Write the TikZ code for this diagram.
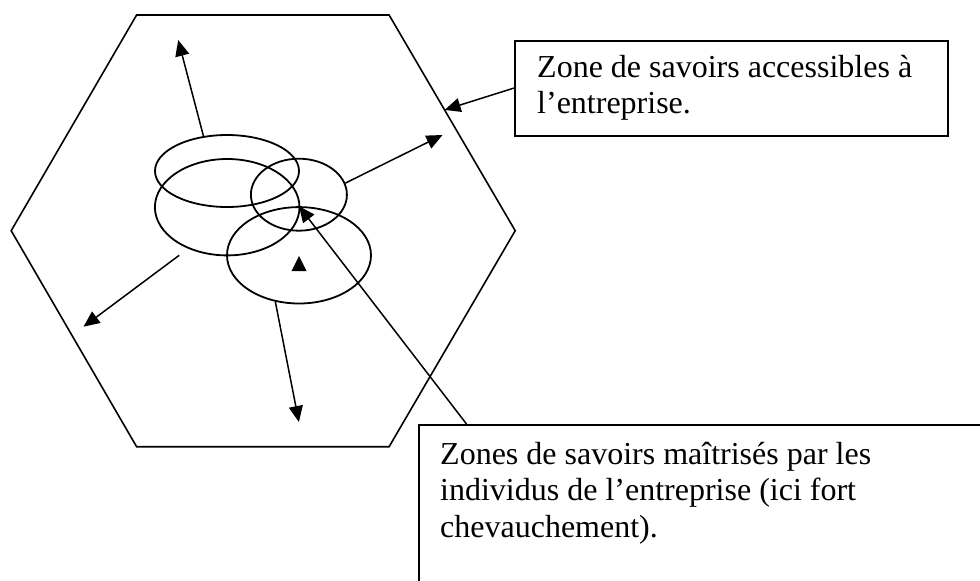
\documentclass[tikz,border=0pt]{standalone}
\usepackage{fontspec}
\setmainfont{Liberation Serif}
\usetikzlibrary{calc,arrows.meta,shapes.geometric,positioning}
\tikzset{
  zline/.style={line width=1.6pt},
  zarrow/.style={line width=1.5pt,-{Triangle[length=16pt,width=14pt]}},
  zset/.style={ellipse,draw,line width=1.8pt,inner sep=0pt},
  zbox/.style={draw,line width=2.1pt,inner sep=0pt},
  ztext/.style={font=\fontsize{32}{36.8}\selectfont,anchor=base west,inner sep=0pt},
}
\newcommand{\zlines}[1]{\begin{tabular}[t]{@{}l@{}}#1\end{tabular}}

\begin{document}
\begin{tikzpicture}[x=1pt,y=-1pt]
  \useasboundingbox (0,0) rectangle (980,581);
  \clip (0,0) rectangle (980,581);
  % hexagon
  \coordinate (h1) at (136.6,15);
  \coordinate (h2) at (389.1,15);
  \coordinate (h3) at (515.2,230.7);
  \coordinate (h4) at (389.1,446.7);
  \coordinate (h5) at (136.6,446.7);
  \coordinate (h6) at (11.2,230.7);
  \draw[zline] (h1) -- (h2) -- (h3) -- (h4) -- (h5) -- (h6) -- cycle;
  % knowledge sets
  \node[zset,minimum width=144pt,minimum height=72pt]   (sA) at (227,171) {};
  \node[zset,minimum width=144.6pt,minimum height=96.4pt] (sB) at (227.2,207.2) {};
  \node[zset,minimum width=96pt,minimum height=72pt]    (sC) at (298.9,194.7) {};
  \node[zset,minimum width=144pt,minimum height=96.4pt] (sD) at (299,255.3) {};
  \fill (291.5,271) -- (306.5,271) -- (299,256) -- cycle;
  % growth arrows
  \coordinate (tN)  at (178.2,40);
  \coordinate (tE)  at (442.5,135);
  \coordinate (fSW) at (179.2,255.3);
  \coordinate (tSW) at (83.5,326.7);
  \coordinate (tS)  at (298.9,422);
  \draw[zarrow] (sA.124) -- (tN);
  \draw[zarrow] (sC.14) -- (tE);
  \draw[zarrow] (fSW) -- (tSW);
  \draw[zarrow] (sD.243) -- (tS);
  % labels
  \node[zbox,minimum width=433pt,minimum height=95pt,anchor=north west] (acc) at (514,39.5) {};
  \node[ztext] (acct) at (537,77) {\zlines{Zone de savoirs accessibles à\\l’entreprise.}};
  \node[zbox,minimum width=600pt,minimum height=200pt,anchor=north west] (ind) at (418,424) {};
  \node[ztext] (indt) at (440,464) {\zlines{Zones de savoirs maîtrisés par les\\individus de l’entreprise (ici fort\\chevauchement).}};
  \coordinate (hx) at ($(h2)!0.44!(h3)$);
  \draw[zarrow] (acc.west) -- (hx);
  \draw[zarrow] ($(ind.north west)+(48.5,0)$) -- (sD.north);
\end{tikzpicture}
\end{document}
